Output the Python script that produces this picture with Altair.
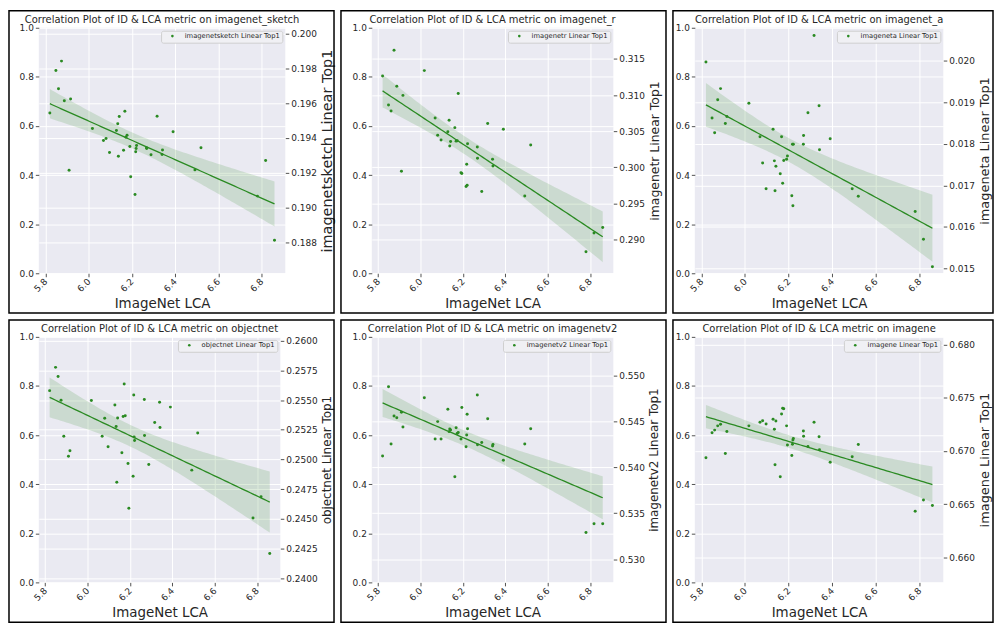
import numpy as np
import pandas as pd
import altair as alt

# ImageNet LCA of each model (shared by all six panels)
lca = [5.821, 5.849, 5.861, 5.875, 5.888, 5.910, 5.917, 6.018, 6.069, 6.081,
       6.097, 6.129, 6.135, 6.138, 6.142, 6.162, 6.168, 6.173, 6.178, 6.191,
       6.195, 6.215, 6.218, 6.220, 6.222, 6.268, 6.269, 6.289, 6.317, 6.340,
       6.342, 6.391, 6.492, 6.520, 6.781, 6.819, 6.860]

imagenet_sketch = [0.19544, 0.19788, 0.19683, 0.19842, 0.19614, 0.19214, 0.19624, 0.19454, 0.19385, 0.19396,
                   0.19316, 0.19443, 0.19482, 0.19294, 0.19523, 0.19329, 0.19553, 0.19404, 0.19415, 0.19350,
                   0.19176, 0.19074, 0.19320, 0.19339, 0.19357, 0.19344, 0.19339, 0.19303, 0.19525, 0.19305,
                   0.19331, 0.19435, 0.19216, 0.19344, 0.19065, 0.19270, 0.18811]

imagenet_r = [0.31263, 0.30862, 0.30781, 0.31621, 0.31121, 0.29946, 0.30996, 0.31339, 0.30683, 0.30442,
              0.30379, 0.30491, 0.30652, 0.30295, 0.30357, 0.30549, 0.30362, 0.30366, 0.31022, 0.29924,
              0.29915, 0.29732, 0.30040, 0.29750, 0.30326, 0.30281, 0.30125, 0.29665, 0.30607, 0.30112,
              0.30018, 0.30527, 0.29603, 0.30308, 0.28830, 0.29089, 0.29165]

imagenet_a = [0.01997, 0.01862, 0.01827, 0.01906, 0.01933, 0.01849, 0.01866, 0.01898, 0.01817, 0.01754,
              0.01692, 0.01835, 0.01759, 0.01687, 0.01746, 0.01728, 0.01817, 0.01705, 0.01760, 0.01763,
              0.01771, 0.01675, 0.01799, 0.01651, 0.01799, 0.01799, 0.01820, 0.01875, 0.02061, 0.01892,
              0.01786, 0.01812, 0.01692, 0.01674, 0.01637, 0.01570, 0.01504]

objectnet = [0.25580, 0.25776, 0.25699, 0.25499, 0.25195, 0.25026, 0.25073, 0.25497, 0.25195, 0.25347,
             0.25107, 0.25458, 0.25278, 0.24808, 0.25350, 0.25057, 0.25361, 0.25635, 0.25369, 0.24965,
             0.24589, 0.24858, 0.25544, 0.25190, 0.25159, 0.25505, 0.25201, 0.24957, 0.25311, 0.25483,
             0.25270, 0.25441, 0.24910, 0.25223, 0.24506, 0.24686, 0.24207]

imagenetv2 = [0.54123, 0.54877, 0.54253, 0.54558, 0.54540, 0.54600, 0.54439, 0.54758, 0.54309, 0.54498,
              0.54309, 0.54632, 0.54389, 0.54418, 0.54407, 0.53898, 0.54432, 0.54368, 0.54379, 0.54309,
              0.54653, 0.54225, 0.54351, 0.54579, 0.54421, 0.54789, 0.54246, 0.54270, 0.54530, 0.54232,
              0.54249, 0.54077, 0.54253, 0.54421, 0.53291, 0.53386, 0.53386]

imagene = [0.66937, 0.67172, 0.67196, 0.67236, 0.67251, 0.66976, 0.67184, 0.67236, 0.67269, 0.67284,
           0.67254, 0.67299, 0.67205, 0.66870, 0.67281, 0.66758, 0.67347, 0.67402, 0.67396, 0.67236,
           0.67057, 0.66958, 0.67063, 0.67103, 0.67118, 0.67187, 0.67139, 0.67042, 0.67269, 0.67133,
           0.67012, 0.66894, 0.66946, 0.67060, 0.66432, 0.66538, 0.66486]

x_ticks = [5.8, 6.0, 6.2, 6.4, 6.6, 6.8]
left_ticks = [0.0, 0.2, 0.4, 0.6, 0.8, 1.0]

FONT = "DejaVu Sans"
TXT = "#262626"
GREEN = "#2a8a22"


def make_panel(dsname, label, vals, dom, ticks, fmt, L, W, R, rtitle_size,
               T=17, H=247, B=40):
    x = np.asarray(lca, float)
    y = np.asarray(vals, float)
    n = len(x)
    slope, icpt = np.polyfit(x, y, 1)
    xs = np.linspace(x.min(), x.max(), 80)
    yh = icpt + slope * xs
    res = y - (icpt + slope * x)
    s = np.sqrt(np.sum(res ** 2) / (n - 2))
    sxx = np.sum((x - x.mean()) ** 2)
    half = 2.03 * s * np.sqrt(1.0 / n + (xs - x.mean()) ** 2 / sxx)
    pts = pd.DataFrame({"lca": x, "acc": y, "series": [label] * n})
    fit = pd.DataFrame({"lca": xs, "fit": yh, "lo": yh - half, "hi": yh + half})

    xenc = alt.X("lca:Q",
                 scale=alt.Scale(domain=[5.77, 6.91], nice=False, zero=False),
                 axis=alt.Axis(values=x_ticks, format=".1f", labelAngle=315,
                               labelAlign="right", labelBaseline="middle",
                               labelPadding=3, title="ImageNet LCA", grid=True,
                               titlePadding=3, titleFontSize=13.5))
    yscale = alt.Scale(domain=dom, nice=False, zero=False)
    yaxis = alt.Axis(orient="right", values=ticks, format=fmt, title=label,
                     titleAngle=270, titleBaseline="top", grid=True, titlePadding=4,
                     titleFontSize=rtitle_size)

    band = alt.Chart(fit).mark_area(color=GREEN, opacity=0.16).encode(
        x=xenc, y=alt.Y("lo:Q", scale=yscale, axis=yaxis), y2="hi:Q")
    line = alt.Chart(fit).mark_line(color=GREEN, strokeWidth=1.3).encode(
        x=xenc, y=alt.Y("fit:Q", scale=yscale, axis=yaxis))
    dots = alt.Chart(pts).mark_circle(size=9, opacity=1).encode(
        x=xenc, y=alt.Y("acc:Q", scale=yscale, axis=yaxis),
        color=alt.Color("series:N", scale=alt.Scale(range=[GREEN]),
                        legend=alt.Legend(orient="top-right", offset=3, title=None,
                                          labelFontSize=6.8, labelFont=FONT,
                                          labelColor=TXT, symbolType="circle",
                                          symbolSize=7, symbolStrokeWidth=0,
                                          fillColor="#F0F0F4", strokeColor="#CFCFCF",
                                          padding=2, cornerRadius=2, labelLimit=300,
                                          symbolOffset=6, labelOffset=9)))
    right = alt.layer(band, line, dots)

    left = alt.Chart(pd.DataFrame({"v": [0.0, 1.0]})).mark_point(opacity=0).encode(
        y=alt.Y("v:Q", scale=alt.Scale(domain=[0, 1], nice=False, zero=False),
                axis=alt.Axis(orient="left", values=left_ticks, format=".1f",
                              title=None, grid=True)))

    frame = alt.Chart(pd.DataFrame({"k": [0]})).mark_rect(
        fillOpacity=0, stroke="black", strokeWidth=1.5).encode(
        x=alt.value(-L), x2=alt.value(W + R), y=alt.value(-T), y2=alt.value(H + B))

    return alt.layer(left, right, frame).resolve_scale(y="independent").properties(
        width=W, height=H,
        title=alt.TitleParams(text=f"Correlation Plot of ID & LCA metric on {dsname}",
                              font=FONT, fontSize=10, fontWeight="normal", color=TXT,
                              anchor="middle", frame="group", offset=-15))


p1 = make_panel("imagenet_sketch", "imagenetsketch Linear Top1", imagenet_sketch,
                [0.18621, 0.20034], [0.188, 0.190, 0.192, 0.194, 0.196, 0.198, 0.200], ".3f",
                30, 248, 49, 14.5)
p2 = make_panel("imagenet_r", "imagenetr Linear Top1", imagenet_r,
                [0.28531, 0.31933], [0.290, 0.295, 0.300, 0.305, 0.310, 0.315], ".3f",
                31, 243, 53, 12.5)
p3 = make_panel("imagenet_a", "imageneta Linear Top1", imagenet_a,
                [0.014883, 0.020796], [0.015, 0.016, 0.017, 0.018, 0.019, 0.020], ".3f",
                22, 250, 50, 13)
p4 = make_panel("objectnet", "objectnet Linear Top1", objectnet,
                [0.23964, 0.26033], [0.2400, 0.2425, 0.2450, 0.2475, 0.2500, 0.2525, 0.2550, 0.2575, 0.2600], ".4f",
                30, 243, 54, 12)
p5 = make_panel("imagenetv2", "imagenetv2 Linear Top1", imagenetv2,
                [0.52747, 0.55421], [0.530, 0.535, 0.540, 0.545, 0.550], ".3f",
                31, 243, 53, 12)
p6 = make_panel("imagene", "imagene Linear Top1", imagene,
                [0.65764, 0.68073], [0.660, 0.665, 0.670, 0.675, 0.680], ".3f",
                22, 250, 50, 13)

row1 = alt.hconcat(p1, p2, p3, spacing=5).resolve_scale(color="independent")
row2 = alt.hconcat(p4, p5, p6, spacing=5).resolve_scale(color="independent")

chart = alt.vconcat(row1, row2, spacing=5).resolve_scale(color="independent").properties(
    padding=0
).configure_view(
    fill="#EAEAF2", strokeWidth=0
).configure_axis(
    labelFont=FONT, titleFont=FONT, labelColor=TXT, titleColor=TXT,
    tickColor=TXT, tickSize=3.5, tickWidth=0.8, gridColor="white", gridWidth=1,
    domain=False, labelFontSize=9, titleFontSize=14, titleFontWeight="normal"
)

chart.save("out.html", embed_options={"renderer": "svg", "actions": False})
